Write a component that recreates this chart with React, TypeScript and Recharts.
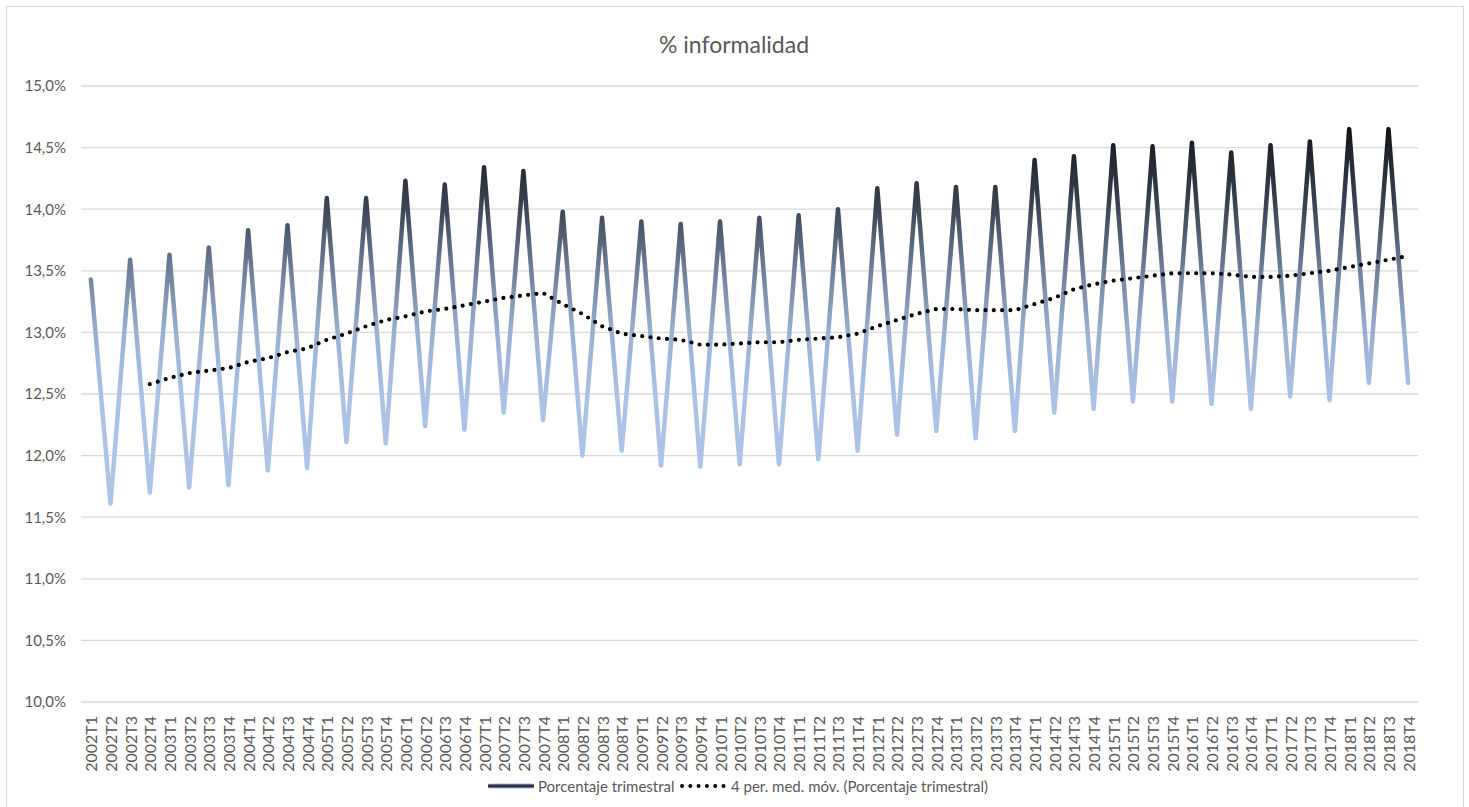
import * as React from 'react';
import { CartesianGrid, Line, LineChart, XAxis, YAxis } from 'recharts';

// Quarters 2002T1 .. 2018T4
const QUARTERS = [
  '2002T1', '2002T2', '2002T3', '2002T4',
  '2003T1', '2003T2', '2003T3', '2003T4',
  '2004T1', '2004T2', '2004T3', '2004T4',
  '2005T1', '2005T2', '2005T3', '2005T4',
  '2006T1', '2006T2', '2006T3', '2006T4',
  '2007T1', '2007T2', '2007T3', '2007T4',
  '2008T1', '2008T2', '2008T3', '2008T4',
  '2009T1', '2009T2', '2009T3', '2009T4',
  '2010T1', '2010T2', '2010T3', '2010T4',
  '2011T1', '2011T2', '2011T3', '2011T4',
  '2012T1', '2012T2', '2012T3', '2012T4',
  '2013T1', '2013T2', '2013T3', '2013T4',
  '2014T1', '2014T2', '2014T3', '2014T4',
  '2015T1', '2015T2', '2015T3', '2015T4',
  '2016T1', '2016T2', '2016T3', '2016T4',
  '2017T1', '2017T2', '2017T3', '2017T4',
  '2018T1', '2018T2', '2018T3', '2018T4',
];

// Porcentaje trimestral (%)
const TRIMESTRAL = [
  13.43, 11.61, 13.59, 11.70,
  13.63, 11.74, 13.69, 11.76,
  13.83, 11.88, 13.87, 11.90,
  14.09, 12.11, 14.09, 12.10,
  14.23, 12.24, 14.20, 12.21,
  14.34, 12.35, 14.31, 12.29,
  13.98, 12.00, 13.93, 12.04,
  13.90, 11.92, 13.88, 11.91,
  13.90, 11.93, 13.93, 11.93,
  13.95, 11.97, 14.00, 12.04,
  14.17, 12.17, 14.21, 12.20,
  14.18, 12.14, 14.18, 12.20,
  14.40, 12.35, 14.43, 12.38,
  14.52, 12.44, 14.51, 12.44,
  14.54, 12.42, 14.46, 12.38,
  14.52, 12.48, 14.55, 12.45,
  14.65, 12.59, 14.65, 12.59,
];

// 4 per. med. móv. (first three quarters have no value)
const MEDIA_MOVIL = [
  null, null, null, 12.58,
  12.63, 12.67, 12.69, 12.71,
  12.76, 12.79, 12.84, 12.87,
  12.94, 12.99, 13.05, 13.10,
  13.13, 13.17, 13.19, 13.22,
  13.25, 13.28, 13.30, 13.32,
  13.23, 13.15, 13.05, 12.99,
  12.97, 12.95, 12.94, 12.90,
  12.90, 12.91, 12.92, 12.92,
  12.94, 12.95, 12.96, 12.99,
  13.05, 13.10, 13.15, 13.19,
  13.19, 13.18, 13.18, 13.18,
  13.23, 13.28, 13.35, 13.39,
  13.42, 13.44, 13.46, 13.48,
  13.48, 13.48, 13.47, 13.45,
  13.45, 13.46, 13.48, 13.50,
  13.53, 13.56, 13.59, 13.62,
];

const Y_TICKS = [10, 10.5, 11, 11.5, 12, 12.5, 13, 13.5, 14, 14.5, 15];

const data = QUARTERS.map((q, i) => ({
  q,
  trimestral: TRIMESTRAL[i],
  media: MEDIA_MOVIL[i],
}));

const FONT = 'Lato, "Open Sans", sans-serif';
const TEXT_COLOR = '#595959';
const GRID_COLOR = '#d9d9d9';

const formatPct = (v: number) => `${v.toFixed(1).replace('.', ',')}%`;

function QuarterTick({ x, y, payload }: any) {
  return (
    <text
      x={x}
      y={y}
      transform={`rotate(-90 ${x} ${y})`}
      textAnchor="end"
      dominantBaseline="central"
      fill={TEXT_COLOR}
      fontSize={16}
      fontFamily={FONT}
    >
      {payload.value}
    </text>
  );
}

function SeriesLegend() {
  const y = 786;
  return (
    <g fontFamily={FONT} fontSize={15} fill={TEXT_COLOR}>
      <rect x={488} y={y - 2.5} width={46} height={5} rx={1.5} fill="url(#legendTrimestral)" />
      <text x={538} y={y} dominantBaseline="central">
        Porcentaje trimestral
      </text>
      <line
        x1={682}
        y1={y}
        x2={727}
        y2={y}
        stroke="#000"
        strokeWidth={4}
        strokeDasharray="0 8.3"
        strokeLinecap="round"
      />
      <text x={731} y={y} dominantBaseline="central">
        4 per. med. móv. (Porcentaje trimestral)
      </text>
    </g>
  );
}

export default function App() {
  return (
    <div
      style={{
        position: 'fixed',
        top: 0,
        left: 0,
        width: 1469,
        height: 807,
        overflow: 'hidden',
        background: '#fff',
      }}
    >
      <div
        style={{
          position: 'absolute',
          left: 6,
          top: 6,
          width: 1458,
          height: 830,
          boxSizing: 'border-box',
          border: `1px solid ${GRID_COLOR}`,
        }}
      />
      <div style={{ position: 'absolute', left: 0, top: 0 }}>
        <LineChart
          width={1469}
          height={807}
          data={data}
          margin={{ top: 86, right: 51, bottom: 25, left: 0 }}
        >
          <defs>
            <linearGradient id="trimestralStroke" x1="0" y1="0" x2="0" y2="1">
              <stop offset="0" stopColor="#111317" />
              <stop offset="0.05" stopColor="#1d2129" />
              <stop offset="0.21" stopColor="#3b4554" />
              <stop offset="0.375" stopColor="#6f7f99" />
              <stop offset="0.54" stopColor="#9aafd2" />
              <stop offset="0.71" stopColor="#abc1e6" />
              <stop offset="1" stopColor="#aec4e9" />
            </linearGradient>
            <linearGradient id="legendTrimestral" x1="0" y1="0" x2="0" y2="1">
              <stop offset="0" stopColor="#a9bde0" />
              <stop offset="0.35" stopColor="#2c3442" />
              <stop offset="0.65" stopColor="#2c3442" />
              <stop offset="1" stopColor="#a9bde0" />
            </linearGradient>
          </defs>
          <text
            x={734}
            y={44}
            textAnchor="middle"
            dominantBaseline="central"
            fontSize={23}
            fontFamily={FONT}
            fill={TEXT_COLOR}
          >
            % informalidad
          </text>
          <CartesianGrid vertical={false} stroke={GRID_COLOR} strokeWidth={1.3} />
          <XAxis
            dataKey="q"
            scale="band"
            interval={0}
            height={80}
            tickLine={false}
            axisLine={false}
            tickSize={0}
            tickMargin={14}
            tick={<QuarterTick />}
          />
          <YAxis
            width={81}
            domain={[10, 15]}
            ticks={Y_TICKS}
            tickFormatter={formatPct}
            tickLine={false}
            axisLine={false}
            tickSize={0}
            tickMargin={15}
            tick={{ fill: TEXT_COLOR, fontSize: 15, fontFamily: FONT }}
          />
          <Line
            type="linear"
            dataKey="trimestral"
            stroke="url(#trimestralStroke)"
            strokeWidth={4.5}
            strokeLinejoin="round"
            strokeLinecap="round"
            dot={false}
            activeDot={false}
            isAnimationActive={false}
          />
          <Line
            type="linear"
            dataKey="media"
            stroke="#000"
            strokeWidth={4.2}
            strokeDasharray="0 8.3"
            strokeLinecap="round"
            dot={false}
            activeDot={false}
            isAnimationActive={false}
          />
          <SeriesLegend />
        </LineChart>
      </div>
    </div>
  );
}
